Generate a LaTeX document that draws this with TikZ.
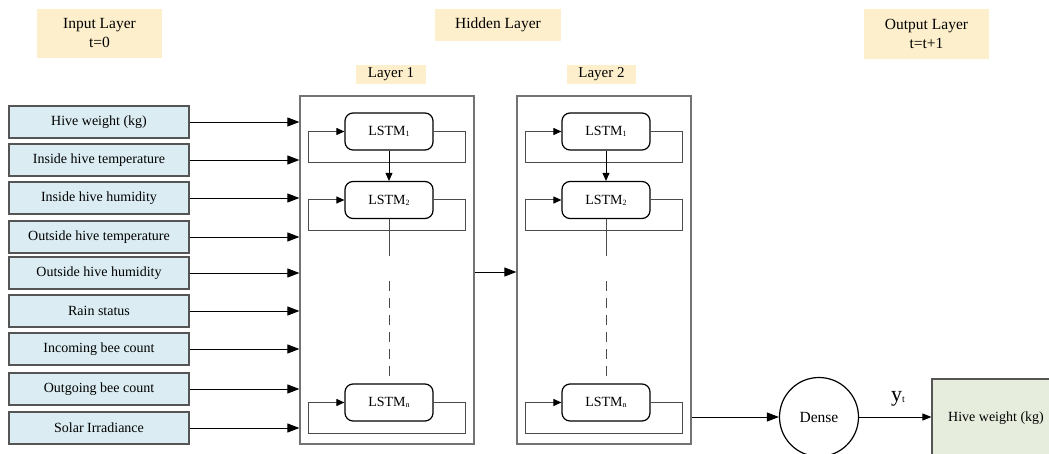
\documentclass[tikz,border=0pt]{standalone}
\usepackage{fontspec}
\setmainfont{Liberation Serif}
\usetikzlibrary{arrows.meta,calc}

\definecolor{headfill}{RGB}{253,239,204}
\definecolor{infill}{RGB}{219,237,243}
\definecolor{outfill}{RGB}{231,237,220}
\definecolor{boxline}{RGB}{85,85,85}
\definecolor{layerline}{RGB}{115,115,115}
\definecolor{loopline}{RGB}{75,75,75}

\newcommand{\lstmlabel}[1]{LSTM{\fontsize{8}{8}\selectfont\raisebox{-0.2ex}{#1}}}

\begin{document}
\begin{tikzpicture}[x=1pt,y=-1pt,
  every node/.style={font=\fontsize{14}{16}\selectfont},
  head/.style={fill=headfill,draw=none,inner sep=0pt,align=center,font=\fontsize{15.5}{19}\selectfont},
  inbox/.style={rectangle,draw=boxline,fill=infill,line width=1.3pt,minimum width=180pt,minimum height=32pt,inner sep=0pt},
  layerbox/.style={rectangle,draw=layerline,line width=1.2pt,inner sep=0pt},
  lstm/.style={rectangle,rounded corners=8pt,draw=black,line width=1.2pt,minimum width=88pt,minimum height=37pt,inner sep=0pt},
  inarrow/.style={-{Triangle[length=12pt,width=9pt]},line width=0.9pt,black},
  looparrow/.style={-{Triangle[length=8pt,width=7pt,color=black]},line width=1pt,draw=loopline},
  downarrow/.style={-{Triangle[length=8pt,width=7pt]},line width=0.9pt,black},
  stem/.style={line width=0.9pt,draw=loopline},
  gapdash/.style={line width=1pt,draw=loopline,dash pattern=on 10pt off 7pt}
]
\useasboundingbox (0,0) rectangle (1049,454);

% headings
\node[head,minimum width=125pt,minimum height=49pt] (hin) at (99.5,33.5) {Input Layer\\t=0};
\node[head,minimum width=126pt,minimum height=32pt] (hhid) at (498,25) {Hidden Layer};
\node[head,minimum width=125pt,minimum height=50pt] (hout) at (926.5,34) {Output Layer\\t=t+1};
\node[head,minimum width=70pt,minimum height=19pt,font=\fontsize{15}{17}\selectfont] (hl1) at (391,74.5) {Layer 1};
\node[head,minimum width=69pt,minimum height=19pt,font=\fontsize{15}{17}\selectfont] (hl2) at (601.5,74.5) {Layer 2};

% layer frames
\node[layerbox,minimum width=174pt,minimum height=348pt] (L1) at (387,270) {};
\node[layerbox,minimum width=174pt,minimum height=348pt] (L2) at (604,270) {};

% input features
\node[inbox] (in1) at (99,122) {Hive weight (kg)};
\node[inbox] (in2) at (99,160) {Inside hive temperature};
\node[inbox] (in3) at (99,198) {Inside hive humidity};
\node[inbox] (in4) at (99,237) {Outside hive temperature};
\node[inbox] (in5) at (99,273) {Outside hive humidity};
\node[inbox] (in6) at (99,311) {Rain status};
\node[inbox] (in7) at (99,349) {Incoming bee count};
\node[inbox] (in8) at (99,389) {Outgoing bee count};
\node[inbox] (in9) at (99,428) {Solar Irradiance};

\foreach \i in {1,...,9}{
  \draw[inarrow] (in\i.east) -- (L1.west |- in\i.east);
}

% LSTM cells, layer 1 and layer 2
\foreach \L/\cx in {a/389,b/606}{
  \node[lstm] (\L1) at (\cx,131.5) {\lstmlabel{1}};
  \node[lstm] (\L2) at (\cx,200) {\lstmlabel{2}};
  \node[lstm] (\L n) at (\cx,402.5) {\lstmlabel{n}};
  % recurrent loops
  \draw[looparrow] (\L1.east) -- ++(32,0) -- ++(0,31) -| ([xshift=-36pt]\L1.west) -- (\L1.west);
  \draw[looparrow] (\L2.east) -- ++(32,0) -- ++(0,31) -| ([xshift=-36pt]\L2.west) -- (\L2.west);
  \draw[looparrow] (\L n.east) -- ++(32,0) -- ++(0,30.5) -| ([xshift=-36pt]\L n.west) -- (\L n.west);
  % stacking
  \draw[downarrow] (\L1.south) -- (\L2.north);
  \coordinate (\L gapA) at ($(\L2.south)+(0,37)$);
  \coordinate (\L gapB) at ($(\L n.north)+(0,-102)$);
  \draw[stem] (\L2.south) -- (\L gapA);
  \draw[gapdash] (\L gapB) -- (\L n.north);
}

% layer 1 to layer 2
\draw[inarrow] ([yshift=-2pt]L1.east) -- ([yshift=-2pt]L2.west);

% output head
\node[circle,draw=black,line width=1.2pt,minimum size=79pt,inner sep=0pt,font=\fontsize{15.5}{18}\selectfont] (dense) at (819,417) {Dense};
\node[rectangle,draw=boxline,fill=outfill,line width=1.2pt,minimum width=128pt,minimum height=79pt,inner sep=0pt] (out) at (996,418.5) {Hive weight (kg)};
\draw[inarrow] (L2.east |- dense.west) -- (dense.west);
\draw[-{Triangle[length=9pt,width=7pt]},line width=0.9pt] (dense.east) -- (out.west |- dense.east);
\node[font=\fontsize{22}{24}\selectfont,inner sep=0pt] (yt) at (898,399) {y{\fontsize{10}{10}\selectfont\raisebox{-0.1ex}{t}}};

\end{tikzpicture}
\end{document}
